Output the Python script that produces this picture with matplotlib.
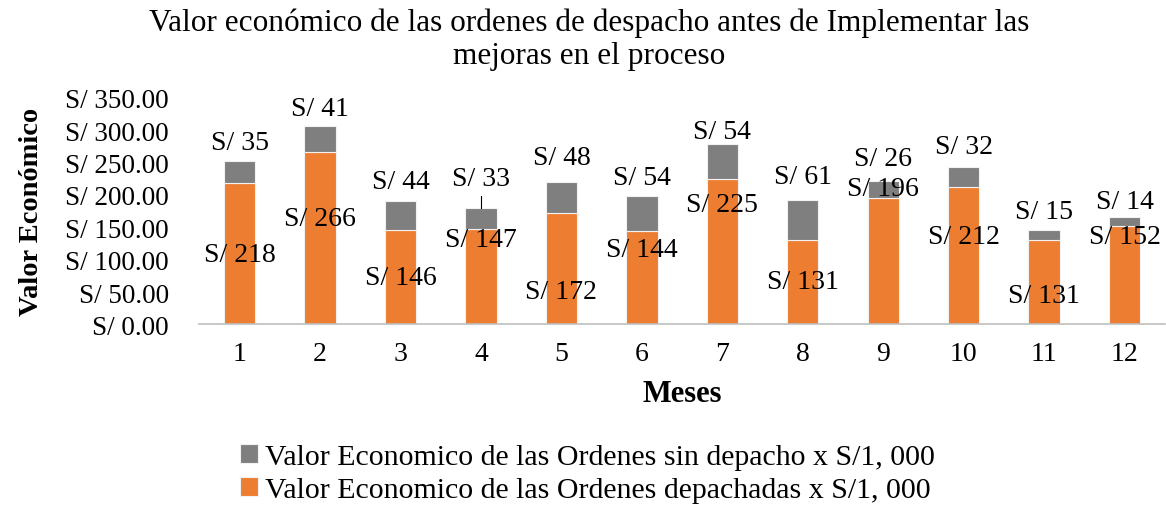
import matplotlib.pyplot as plt

# data (values x S/1,000)
months = [1, 2, 3, 4, 5, 6, 7, 8, 9, 10, 11, 12]
despachadas = [218, 266, 146, 147, 172, 144, 225, 131, 196, 212, 131, 152]
sin_despacho = [35, 41, 44, 33, 48, 54, 54, 61, 26, 32, 15, 14]
y_ticks = [0, 50, 100, 150, 200, 250, 300, 350]

# where the data labels sit (data units), as placed in the original
label_desp_y = [108, 163, 73, 131, 51, 116, 186, 67, 210, 136, 45, 136]
label_sin_y = [281, 333, 221, 225, 258, 227, 298, 228, 257, 275, 175, 190]

orange = '#ED7D31'
gray = '#7F7F7F'
plt.rcParams['font.family'] = ['Liberation Serif', 'DejaVu Serif']

fig = plt.figure(figsize=(11.66, 5.10), dpi=100)
ax = fig.add_axes([0.171, 0.362, 0.828, 0.444])

b1 = ax.bar(months, despachadas, width=0.39, color=orange, edgecolor='#F2F2F2', linewidth=0.8,
            label='Valor Economico de las Ordenes depachadas x S/1, 000')
b2 = ax.bar(months, sin_despacho, width=0.39, bottom=despachadas, color=gray,
            edgecolor='#F2F2F2', linewidth=0.8,
            label='Valor Economico de las Ordenes sin depacho x S/1, 000')

for m, d, s, yd, ys in zip(months, despachadas, sin_despacho, label_desp_y, label_sin_y):
    ax.text(m, yd, 'S/ {}'.format(d), ha='center', va='center', fontsize=20)
    top = d + s
    if ys - top > 40:
        # leader line like the one Excel draws for moved labels
        ax.plot([m, m], [top, ys - 26], color='black', lw=0.8)
    ax.text(m, ys, 'S/ {}'.format(s), ha='center', va='center', fontsize=20)

ax.set_xlim(0.5, 12.5)
ax.set_ylim(0, 350)
ax.set_xticks(months)
ax.set_xticklabels([str(m) for m in months], fontsize=20)
ax.set_yticks(y_ticks)
ax.set_yticklabels(['S/ {:.2f}'.format(v) for v in y_ticks], fontsize=19.5)
ax.tick_params(axis='x', length=0, pad=12)
ax.tick_params(axis='y', length=0, pad=22)
for side in ['top', 'right', 'left']:
    ax.spines[side].set_visible(False)
ax.spines['bottom'].set_color('#BFBFBF')
ax.spines['bottom'].set_linewidth(1.2)

ax.set_xlabel('Meses', fontsize=22, fontweight='bold', labelpad=9)
fig.text(0.027, 0.585, 'Valor Económico', rotation=90, ha='center', va='center',
         fontsize=20.5, fontweight='bold')

fig.text(0.505, 0.922, 'Valor económico de las ordenes de despacho antes de Implementar las\nmejoras en el proceso',
         ha='center', va='center', fontsize=22.5, linespacing=1.22)

fig.legend(handles=[b2, b1], loc='center', bbox_to_anchor=(0.504, 0.070), ncol=1,
           frameon=False, fontsize=21.5, handlelength=0.6, handleheight=0.6,
           handletextpad=0.25, labelspacing=0.22, borderpad=0.2)

fig.savefig('out.png', dpi=100)
